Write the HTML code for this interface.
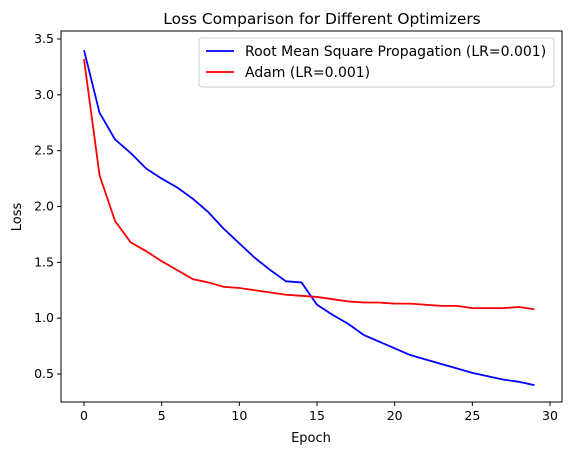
<!DOCTYPE html>
<html><head><meta charset="utf-8"><style>
body{margin:0;background:#fff;}
svg text{font-family:"DejaVu Sans","Liberation Sans",sans-serif;fill:#000;}
</style></head><body>
<svg id="chart" width="569" height="455" xmlns="http://www.w3.org/2000/svg">
<rect x="0" y="0" width="569" height="455" fill="#fff"/>
<text x="322" y="24" font-size="15.4" text-anchor="middle">Loss Comparison for Different Optimizers</text>
<g id="grid"></g>
<g id="series"></g>
<rect x="61" y="31" width="501" height="371" fill="none" stroke="#000" stroke-width="1"/>
<text x="311" y="442" font-size="13" text-anchor="middle">Epoch</text>
<text x="0" y="0" font-size="13" text-anchor="middle" transform="translate(21,217) rotate(-90)">Loss</text>
<g>
<rect x="199" y="38" width="355" height="49" fill="#fff" stroke="#ccc" rx="3"/>
<line x1="206" y1="51" x2="234" y2="51" stroke="#0000ff" stroke-width="1.8"/>
<text x="245" y="56" font-size="14">Root Mean Square Propagation (LR=0.001)</text>
<line x1="206" y1="72" x2="234" y2="72" stroke="#ff0000" stroke-width="1.8"/>
<text x="245" y="77" font-size="14">Adam (LR=0.001)</text>
</g>
</svg>
<script>
const epochs = [0,1,2,3,4,5,6,7,8,9,10,11,12,13,14,15,16,17,18,19,20,21,22,23,24,25,26,27,28,29];
const rmspropLoss = [3.40,2.84,2.60,2.48,2.34,2.25,2.17,2.07,1.95,1.80,1.67,1.54,1.43,1.33,1.32,1.12,1.03,0.95,0.85,0.79,0.73,0.67,0.63,0.59,0.55,0.51,0.48,0.45,0.43,0.40];
const adamLoss = [3.32,2.28,1.87,1.68,1.60,1.51,1.43,1.35,1.32,1.28,1.27,1.25,1.23,1.21,1.20,1.19,1.17,1.15,1.14,1.14,1.13,1.13,1.12,1.11,1.11,1.09,1.09,1.09,1.10,1.08];
const xTicks = [0,5,10,15,20,25,30];
const yTicks = [0.5,1.0,1.5,2.0,2.5,3.0,3.5];
const NS="http://www.w3.org/2000/svg";
function xs(v){return 84+(v-0)*(550-84)/30;}
function ys(v){return 374-(v-0.5)*(374-39)/3.0;}
const grid=document.getElementById('grid');
function mk(tag,attrs,parent){const e=document.createElementNS(NS,tag);for(const k in attrs)e.setAttribute(k,attrs[k]);parent.appendChild(e);return e;}
xTicks.forEach(t=>{
  mk('line',{x1:xs(t),x2:xs(t),y1:402,y2:406,stroke:'#000'},grid);
  const tx=mk('text',{x:xs(t),y:420,'font-size':12.5,'text-anchor':'middle'},grid);
  tx.textContent=t;
  
  
});
yTicks.forEach(t=>{
  mk('line',{x1:57,x2:61,y1:ys(t),y2:ys(t),stroke:'#000'},grid);
  const tx=mk('text',{x:54,y:ys(t)+4,'font-size':12.5,'text-anchor':'end'},grid);
  tx.textContent=t.toFixed(1);
  
  
});
const series=document.getElementById('series');
function line(vals,color,name){
  const p=mk('polyline',{points:vals.map((v,i)=>xs(epochs[i])+','+ys(v)).join(' '),fill:'none',stroke:color,'stroke-width':1.8,'stroke-linejoin':'round'},series);
  
  
}
line(rmspropLoss,'#0000ff','rmsprop-line');
line(adamLoss,'#ff0000','adam-line');
</script>
</body></html>
